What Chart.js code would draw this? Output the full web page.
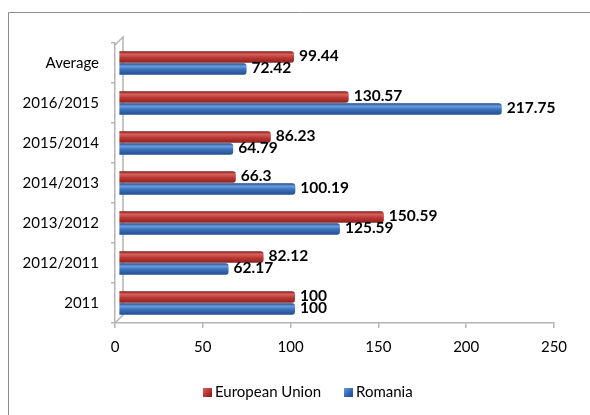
<!DOCTYPE html>
<html>
<head>
<meta charset="utf-8">
<script src="https://cdn.jsdelivr.net/npm/chart.js@4"></script>
<style>
  html, body { margin: 0; padding: 0; background: #fff; }
  #wrap { position: relative; width: 590px; height: 415px; }
  #c { position: absolute; left: 0; top: 0; }
  #legend { position: absolute; top: 381px; left: 0; width: 590px; font-family: Lato, "Open Sans", sans-serif; font-size: 15px; color: #000; white-space: nowrap; }
  .item { position: absolute; top: 0; height: 20px; line-height: 20px; }
  .box { display: inline-block; width: 9px; height: 9px; vertical-align: middle; margin-right: 3px; position: relative; top: -1px; }
</style>
</head>
<body>
<div id="wrap">
  <canvas id="c" width="590" height="415"></canvas>
  <div id="legend"></div>
</div>
<script>
const categories = ['Average', '2016/2015', '2015/2014', '2014/2013', '2013/2012', '2012/2011', '2011'];
const seriesNames = ['European Union', 'Romania'];
const euValues = [99.44, 130.57, 86.23, 66.3, 150.59, 82.12, 100];
const roValues = [72.42, 217.75, 64.79, 100.19, 125.59, 62.17, 100];
const xTicks = [0, 50, 100, 150, 200, 250];

const CAT_PCT = 0.6, BAR_PCT = 0.95;
const palettes = [
  ['#7a1a19', '#d8625e', '#bd3a36', '#8a211f'],
  ['#1c4783', '#6c9cdc', '#3a6fbd', '#22508e']
];

function barGradient(ctx, di) {
  const chart = ctx.chart;
  const ys = chart.scales && chart.scales.y;
  const p = palettes[di];
  if (!ys || ctx.dataIndex === undefined) return p[2];
  const y0 = ys.getPixelForValue(0), y1 = ys.getPixelForValue(1);
  const yc = ys.getPixelForValue(ctx.dataIndex);
  if (!isFinite(y0) || !isFinite(y1) || !isFinite(yc) || y1 === y0) return p[2];
  const band = y1 - y0;
  const slot = band * CAT_PCT / 2;
  const h = slot * BAR_PCT;
  const c = yc + (di === 0 ? -slot / 2 : slot / 2);
  const g = chart.ctx.createLinearGradient(0, c - h / 2, 0, c + h / 2);
  g.addColorStop(0, p[0]);
  g.addColorStop(0.25, p[1]);
  g.addColorStop(0.55, p[2]);
  g.addColorStop(1, p[3]);
  return g;
}

const framePlugin = {
  id: 'frame',
  beforeDraw(chart) {
    const c = chart.ctx;
    c.save();
    c.fillStyle = '#fff';
    c.fillRect(0, 0, chart.width, chart.height);
    c.strokeStyle = '#8c8c8c';
    c.lineWidth = 1;
    c.beginPath();
    c.moveTo(8.5, 430);
    c.lineTo(8.5, 12.5);
    c.lineTo(600, 12.5);
    c.stroke();
    c.restore();
  },
  beforeDatasetsDraw(chart) {
    const a = chart.chartArea;
    const c = chart.ctx;
    const d = 8;
    c.save();
    c.strokeStyle = '#b4b4b4';
    c.lineWidth = 1.5;
    c.beginPath();
    c.moveTo(a.left, a.top + 2);
    c.lineTo(a.left + d, a.top + 2 - d);
    c.lineTo(a.left + d, a.bottom - d);
    c.lineTo(a.left, a.bottom);
    c.stroke();
    c.restore();
  }
};

const labelPlugin = {
  id: 'valueLabels',
  afterDatasetsDraw(chart) {
    const c = chart.ctx;
    c.save();
    c.font = 'bold 15.5px Lato, "Open Sans", sans-serif';
    c.fillStyle = '#000';
    c.textAlign = 'left';
    c.textBaseline = 'middle';
    chart.data.datasets.forEach((ds, di) => {
      const meta = chart.getDatasetMeta(di);
      meta.data.forEach((el, i) => {
        c.fillText(String(ds.data[i]), el.x + 5, el.y - 1);
      });
    });
    c.restore();
  }
};

const chart = new Chart(document.getElementById('c'), {
  type: 'bar',
  data: {
    labels: categories,
    datasets: [
      { label: seriesNames[0], data: euValues, xAxisID: 'xb', backgroundColor: (ctx) => barGradient(ctx, 0), borderRadius: 3, borderSkipped: 'start', categoryPercentage: CAT_PCT, barPercentage: BAR_PCT },
      { label: seriesNames[1], data: roValues, xAxisID: 'xb', backgroundColor: (ctx) => barGradient(ctx, 1), borderRadius: 3, borderSkipped: 'start', categoryPercentage: CAT_PCT, barPercentage: BAR_PCT }
    ]
  },
  options: {
    indexAxis: 'y',
    responsive: false,
    animation: false,
    layout: { padding: { left: 0, right: 36, top: 43, bottom: 0 } },
    plugins: { legend: { display: false }, tooltip: { enabled: false } },
    scales: {
      x: {
        type: 'linear', position: 'bottom', min: 0, max: 250,
        afterBuildTicks(s) { s.ticks = xTicks.map(v => ({ value: v })); },
        afterFit(s) { s.height = 92; },
        grid: { drawOnChartArea: false, drawTicks: true, tickLength: 5, color: '#b4b4b4', lineWidth: 1.5 },
        border: { display: true, color: '#b4b4b4', width: 1.5 },
        ticks: { color: '#000', padding: 10, font: { family: 'Lato, "Open Sans", sans-serif', size: 15 } }
      },
      xb: {
        type: 'linear', display: false, min: -2.5, max: 247.5
      },
      y: {
        afterFit(s) { s.width = 115; },
        grid: { drawOnChartArea: false, drawTicks: true, tickLength: 4, color: '#b4b4b4', lineWidth: 1.5, offset: true },
        border: { display: true, color: '#b4b4b4', width: 1.5 },
        ticks: { color: '#000', padding: 12, font: { family: 'Lato, "Open Sans", sans-serif', size: 15 } }
      }
    }
  },
  plugins: [framePlugin, labelPlugin]
});
chart.update();

// HTML legend built from the series names
const legend = document.getElementById('legend');
const boxCss = [
  'linear-gradient(135deg, #d8625e 0%, #bd3a36 45%, #7a1a19 100%)',
  'linear-gradient(135deg, #6c9cdc 0%, #3a6fbd 45%, #1c4783 100%)'
];
const lefts = [203, 344];
seriesNames.forEach((n, i) => {
  const it = document.createElement('span');
  it.className = 'item';
  it.style.left = lefts[i] + 'px';
  const b = document.createElement('span');
  b.className = 'box';
  b.style.background = boxCss[i];
  it.appendChild(b);
  it.appendChild(document.createTextNode(n));
  legend.appendChild(it);
});
</script>
</body>
</html>
